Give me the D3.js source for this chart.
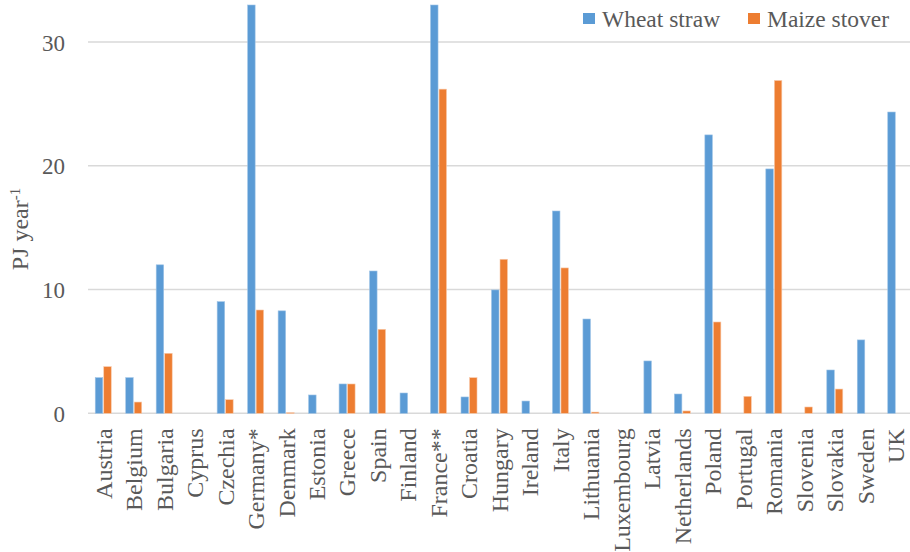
<!DOCTYPE html>
<html><head><meta charset="utf-8">
<script src="https://cdn.jsdelivr.net/npm/d3@7"></script>
<style>
html,body{margin:0;padding:0;background:#fff;}
</style></head>
<body><svg id="c" width="910" height="552"></svg>
<script>
const categories = ["Austria","Belgium","Bulgaria","Cyprus","Czechia","Germany*","Denmark","Estonia","Greece","Spain","Finland","France**","Croatia","Hungary","Ireland","Italy","Lithuania","Luxembourg","Latvia","Netherlands","Poland","Portugal","Romania","Slovenia","Slovakia","Sweden","UK"];
const wheatStraw  = [2.88,2.88,12.0,0,9.02,33,8.28,1.48,2.37,11.5,1.64,33,1.32,9.97,0.99,16.35,7.62,0,4.23,1.56,22.5,0,19.75,0,3.5,5.93,24.35];
const maizeStover = [3.77,0.91,4.85,0,1.10,8.35,0.05,0,2.37,6.79,0,26.2,2.88,12.45,0,11.75,0.1,0,0,0.19,7.38,1.37,26.9,0.51,1.96,0,0];
const seriesNames = ["Wheat straw","Maize stover"];
const colors = ["#5b9bd5","#ed7d31"];
const strokes = ["#9dc3e6","#f8cbad"];
const yTicks = [0,10,20,30];

(function(){
const FONT = '"Liberation Serif"';
const TXT = "#595959";
const svg = d3.select("#c");
const mTop = 5, mBottom = 413.3, mLeft = 88, mRight = 911;
const x = d3.scaleBand().domain(categories).range([mLeft, mRight]).paddingInner(0).paddingOuter(0);
const y = d3.scaleLinear().domain([0,33]).range([mBottom, mTop]);

// gridlines
svg.append("g").selectAll("line").data(yTicks).join("line")
  .attr("x1", mLeft).attr("x2", mRight)
  .attr("y1", d=>y(d)).attr("y2", d=>y(d))
  .attr("stroke","#d9d9d9").attr("stroke-width",1.5);

// y axis labels
const yAxis = d3.axisLeft(y).tickValues(yTicks).tickSize(0).tickPadding(0).tickFormat(d3.format("d"));
const ga = svg.append("g").attr("transform",`translate(${mLeft-23},0)`).call(yAxis);
ga.attr("font-family",null);
ga.select(".domain").remove();
ga.selectAll("text").style("font-size","23px").style("fill",TXT)
  .style("font-family",FONT).attr("dy","0.35em");

// bars
const sub = d3.scaleBand().domain([0,1]).range([-8,8]).paddingInner(0.12);
const data = [];
categories.forEach((c,i)=>{
  [wheatStraw[i], maizeStover[i]].forEach((v,s)=>data.push({c,s,v}));
});
svg.append("g").selectAll("rect").data(data.filter(d=>d.v>0)).join("rect")
  .attr("x", d=>x(d.c)+x.bandwidth()/2+sub(d.s))
  .attr("width", sub.bandwidth())
  .attr("y", d=>y(d.v))
  .attr("height", d=>Math.max(0.8, y(0)-y(d.v)))
  .attr("fill", d=>colors[d.s])
  .attr("stroke", d=>strokes[d.s]).attr("stroke-width",0.6);

// x labels
const xAxis = d3.axisBottom(x).tickSize(0).tickPadding(0);
const gx = svg.append("g").attr("transform",`translate(0,${mBottom})`).call(xAxis);
gx.attr("font-family",null);
gx.select(".domain").remove();
gx.selectAll("text").style("font-size","24px").style("fill",TXT)
  .style("font-family",FONT)
  .attr("text-anchor","end")
  .attr("transform","rotate(-90)")
  .attr("x",-15).attr("y",0).attr("dy","0.35em");

// y title
const yt = svg.append("text").attr("transform","translate(28,229) rotate(-90)")
  .attr("text-anchor","middle").style("font-size","24px").style("font-family",FONT).style("fill",TXT);
yt.append("tspan").text("PJ year");
yt.append("tspan").attr("dy","-8").style("font-size","15px").text("-1");

// legend
const legX = [583, 748];
seriesNames.forEach((n,i)=>{
  svg.append("rect").attr("x",legX[i]).attr("y",13).attr("width",12).attr("height",11).attr("fill",colors[i]);
  svg.append("text").attr("x",legX[i]+19).attr("y",27).style("font-size","23.5px")
    .style("font-family",FONT).style("fill",TXT).text(n);
});
})();
</script></body></html>
